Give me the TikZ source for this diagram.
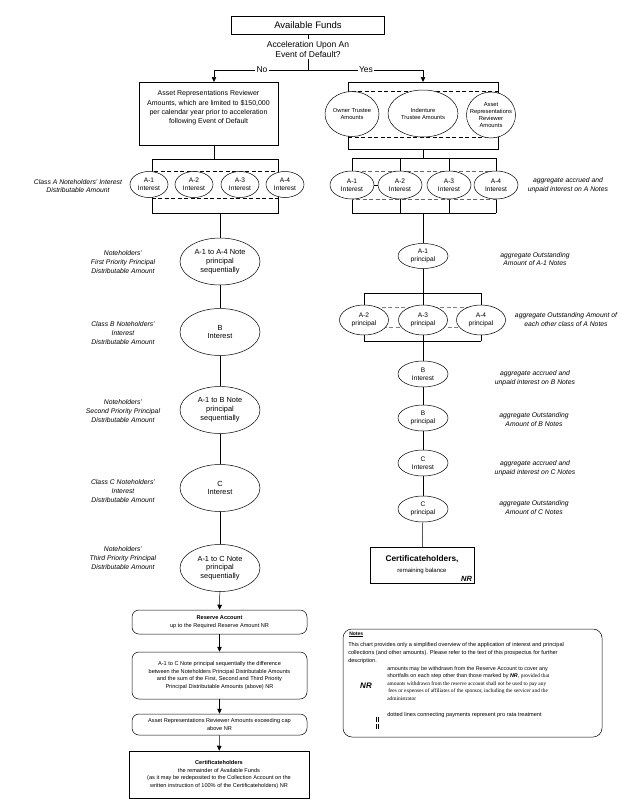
\documentclass[tikz,border=0pt]{standalone}
\usepackage{fontspec}
\setmainfont{Liberation Sans}
\newfontfamily\timesfont{Liberation Serif}
\usetikzlibrary{shapes.geometric,arrows.meta,backgrounds}

\begin{document}
\begin{tikzpicture}[x=1pt, y=-1pt, line width=0.5pt, >={Triangle[length=5pt,width=4.5pt]},
    box/.style={draw, rectangle, inner sep=0pt, align=center},
    rbox/.style={draw, rectangle, rounded corners=7pt, inner sep=0pt, align=center, font=\fontsize{5.6}{7.6}\selectfont},
    oval/.style={draw, ellipse, fill=white, inner sep=0pt},
    otext/.style={align=center, inner sep=0pt, font=\fontsize{6.6}{8.4}\selectfont},
    bigtext/.style={align=center, inner sep=0pt, font=\fontsize{7.4}{8.8}\selectfont},
    feetext/.style={align=center, inner sep=0pt, font=\fontsize{5.8}{7}\selectfont},
    lbl/.style={align=center, inner sep=0pt, font=\fontsize{6.8}{8.6}\selectfont\itshape},
    prorata/.style={dashed, dash pattern=on 4pt off 2.5pt}]
\useasboundingbox (0,0) rectangle (635,806);

% top decision
\node[box, minimum width=153pt, minimum height=18pt, font=\fontsize{9.5}{11}\selectfont] (funds) at (308,25) {Available Funds};
\node[align=center, inner sep=1.5pt, font=\fontsize{8.5}{10}\selectfont] (accel) at (308,49) {Acceleration Upon An\\Event of Default?};
\coordinate (split) at (308,70);
\node[inner sep=1pt, font=\fontsize{8.5}{10}\selectfont] (no) at (262,70) {No};
\node[inner sep=1pt, font=\fontsize{8.5}{10}\selectfont] (yes) at (366,70) {Yes};
\coordinate (noend) at (214,82);
\coordinate (yesend) at (423,82);
\draw (funds) -- (accel);
\draw (accel) -- (split);
\draw (split) -- (no);
\draw (split) -- (yes);
\draw[->] (no) -| (noend);
\draw[->] (yes) -| (yesend);

% no acceleration
\node[box, minimum width=139pt, minimum height=63pt, font=\fontsize{7}{9.3}\selectfont] (reviewer) at (208.5,113.5) {Asset Representations Reviewer\\Amounts, which are limited to \$150,000\\per calendar year prior to acceleration\\following Event of Default\\[3pt]};
\coordinate (lbrT) at (214,159);
\coordinate (lbrTL) at (152,159);
\coordinate (lbrTR) at (278,159);
\coordinate (lbrBL) at (152,213);
\coordinate (lbrBR) at (278,213);
\coordinate (lbrB) at (220,213);
\foreach \i/\x in {1/149,2/194,3/240,4/285}
    \node[oval, minimum width=38pt, minimum height=26pt, label={[otext]center:{A-\i\\Interest}}] (la\i) at (\x,184.5) {};
\begin{scope}[on background layer]
    \draw (lbrT |- reviewer.south) -- (lbrT);
    \draw (lbrTL) -- (lbrTR);
    \draw (lbrTL) -- (lbrBL) -- (lbrBR) -- (lbrTR);
    \draw[prorata] (lbrTL |- la1.north) rectangle (lbrBR |- la1.south);
\end{scope}
\node[lbl] (classA) at (78,186) {Class A Noteholders' Interest\\Distributable Amount};

\foreach \n/\y/\txt in {1/261.5/{A-1 to A-4 Note\\principal\\sequentially}, 2/332/{B\\Interest},
        3/410/{A-1 to B Note\\principal\\sequentially}, 4/488/{C\\Interest}, 5/568/{A-1 to C Note\\principal\\sequentially}}
    \node[oval, minimum width=80pt, minimum height=47pt, label={[bigtext]center:{\txt}}] (ls\n) at (220,\y) {};
\draw (lbrB) -- (ls1);
\foreach \a/\b in {1/2,2/3,3/4,4/5}
    \draw (ls\a) -- (ls\b);

\foreach \n/\y/\txt in {1/262/{Noteholders'\\First Priority Principal\\Distributable Amount},
        2/333/{Class B Noteholders'\\Interest\\Distributable Amount},
        3/411/{Noteholders'\\Second Priority Principal\\Distributable Amount},
        4/491/{Class C Noteholders'\\Interest\\Distributable Amount},
        5/558/{Noteholders'\\Third Priority Principal\\Distributable Amount}}
    \node[lbl] (lp\n) at (123,\y) {\txt};

% waterfall after principal
\node[rbox, minimum width=175pt, minimum height=24pt] (reserve) at (219.5,622) {\textbf{Reserve Account}\\up to the Required Reserve Amount NR};
\node[rbox, minimum width=175pt, minimum height=47pt] (remain) at (219.5,675.5) {A-1 to C Note principal sequentially the difference\\between the Noteholders Principal Distributable Amounts\\and the sum of the First, Second and Third Priority\\Principal Distributable Amounts (above) NR};
\node[rbox, minimum width=175pt, minimum height=21pt] (excess) at (219.5,724.5) {Asset Representations Reviewer Amounts exceeding cap\\above NR};
\node[box, minimum width=180pt, minimum height=47pt, font=\fontsize{5.6}{7.6}\selectfont] (certL) at (219,774.5) {\textbf{Certificateholders}\\the remainder of Available Funds\\(as it may be redeposited to the Collection Account on the\\written instruction of 100\% of the Certificateholders) NR};
\draw[->] (ls5) -- (reserve);
\draw[->] (reserve) -- (remain);
\draw[->] (remain) -- (excess);
\draw[->] (excess) -- (certL);

% acceleration
\coordinate (rbrTL) at (348,82);
\coordinate (rbrTR) at (498,82);
\coordinate (rbrBL) at (348,149);
\coordinate (rbrBR) at (498,149);
\coordinate (rbrB) at (423,149);
\coordinate (r2T) at (423,158);
\coordinate (r2B) at (423,213);
\node[oval, minimum width=54pt, minimum height=45pt, label={[feetext]center:{Owner Trustee\\Amounts}}] (owner) at (352,114) {};
\node[oval, minimum width=70pt, minimum height=47pt, label={[feetext]center:{Indenture\\Trustee Amounts}}] (indenture) at (423,113.5) {};
\node[oval, minimum width=49pt, minimum height=46pt, label={[feetext]center:{Asset\\Representations\\Reviewer\\Amounts}}] (arrfee) at (491,115) {};
\foreach \i/\x in {1/352,2/400,3/449,4/496}
    \node[oval, minimum width=44pt, minimum height=28pt, label={[otext]center:{A-\i\\Interest}}] (ra\i) at (\x,185) {};
\draw (ra1) -- (ra2);
\begin{scope}[on background layer]
    \draw (rbrTL) -- (rbrTR);
    \draw (rbrTL) -- (rbrBL) -- (rbrBR) -- (rbrTR);
    \draw[prorata] (rbrTL |- owner.north) rectangle (rbrBR |- owner.south);
    \draw (rbrB) -- (r2T);
    \draw (ra1 |- r2T) -- (ra4 |- r2T);
    \draw (ra1 |- r2B) -- (ra4 |- r2B);
    \foreach \i in {1,...,4}
        \draw (ra\i |- r2T) -- (ra\i |- r2B);
    \draw[prorata, black!60] (ra1.north) rectangle (ra4.south);
\end{scope}
\node[lbl] (rlA) at (568,185) {aggregate accrued and\\unpaid interest on A Notes};

\node[oval, minimum width=50pt, minimum height=25pt, label={[otext]center:{A-1\\principal}}] (rp1) at (423,256) {};
\draw (r2B) -- (rp1);
\coordinate (r3T) at (423,293);
\coordinate (r3B) at (423,341);
\foreach \i/\x in {2/364,3/423,4/481}
    \node[oval, minimum width=49pt, minimum height=30pt, label={[otext]center:{A-\i\\principal}}] (rp\i) at (\x,320) {};
\begin{scope}[on background layer]
    \draw (rp1) -- (r3T);
    \draw (rp2 |- r3T) -- (rp4 |- r3T);
    \draw (rp2 |- r3B) -- (rp4 |- r3B);
    \foreach \i in {2,3,4}
        \draw (rp\i |- r3T) -- (rp\i |- r3B);
    \draw[prorata, black!50] ([yshift=-2pt]rp2.north) rectangle ([yshift=8pt]rp4.south);
\end{scope}

\foreach \n/\y/\txt in {bi/374/{B\\Interest}, bp/418/{B\\principal}, ci/463/{C\\Interest}, cp/509/{C\\principal}}
    \node[oval, minimum width=50pt, minimum height=26pt, label={[otext]center:{\txt}}] (r\n) at (423,\y) {};
\draw (r3B) -- (rbi);
\draw (rbi) -- (rbp);
\draw (rbp) -- (rci);
\draw (rci) -- (rcp);
\node[box, minimum width=104pt, minimum height=36pt] (certR) at (422,565) {{\fontsize{8.3}{10}\selectfont\bfseries Certificateholders,}\\[-1pt]{\fontsize{6}{8}\selectfont remaining balance}};
\node[anchor=south east, inner sep=2pt, font=\fontsize{7.5}{8}\selectfont\bfseries\itshape] (certNR) at (certR.south east) {NR};
\draw (rcp) -- (certR);

\node[lbl] (rl1) at (535,259) {aggregate Outstanding\\Amount of A-1 Notes};
\node[lbl] (rl2) at (566,319.5) {aggregate Outstanding Amount of\\each other class of A Notes};
\node[lbl] (rl3) at (535,378.5) {aggregate accrued and\\unpaid interest on B Notes};
\node[lbl] (rl4) at (534,419.5) {aggregate Outstanding\\Amount of B Notes};
\node[lbl] (rl5) at (535,468) {aggregate accrued and\\unpaid interest on C Notes};
\node[lbl] (rl6) at (534,507.5) {aggregate Outstanding\\Amount of C Notes};

% notes
\node[draw, rounded corners=9pt, minimum width=259pt, minimum height=108pt, inner sep=0pt] (notes) at (472.5,683) {};
\node[anchor=north west, inner sep=0pt, font=\fontsize{5}{6}\selectfont\bfseries] (notesH) at (349,631.5) {\underline{Notes}};
\node[anchor=north west, align=left, inner sep=0pt, font=\fontsize{5.6}{8}\selectfont] (notesP) at (348,642) {This chart provides only a simplified overview of the application of interest and principal\\collections (and other amounts).  Please refer to the text of this prospectus for further\\description.};
\node[font=\fontsize{8}{9}\selectfont\bfseries\itshape] (nrkey) at (366,686) {NR};
\node[anchor=north west, align=left, inner sep=0pt, font=\fontsize{5.4}{7.5}\selectfont] (nrtext) at (387,666) {amounts may be withdrawn from the Reserve Account to cover any\\shortfalls on each step other than those marked by \textbf{\textit{NR}}, {\timesfont provided that}\\{\timesfont amounts withdrawn from the reserve account shall not be used to pay any}\\{\timesfont\hspace{1pt}fees or expenses of affiliates of the sponsor, including the servicer and the}\\{\timesfont administrator}};
\coordinate (keyT) at (377.5,717);
\coordinate (keyB) at (377.5,729);
\draw[line width=0.5pt, double, double distance=1.4pt, dash pattern=on 5pt off 2pt] (keyT) -- (keyB);
\node[anchor=west, inner sep=0pt, font=\fontsize{5.6}{7}\selectfont] (keytext) at (387,715) {dotted lines connecting payments represent pro rata treatment};
\end{tikzpicture}
\end{document}
